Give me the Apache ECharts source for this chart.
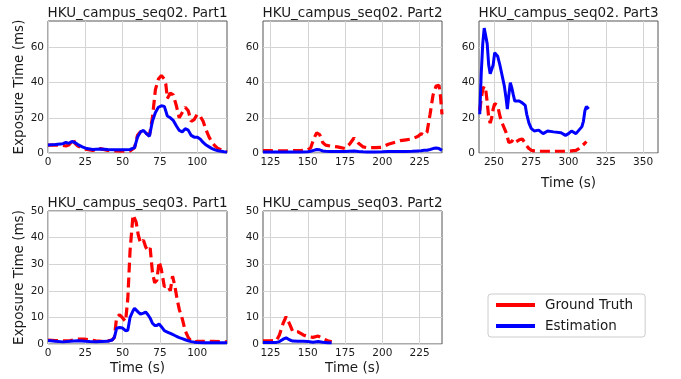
<!DOCTYPE html>
<html>
<head>
<meta charset="utf-8">
<script src="https://cdn.jsdelivr.net/npm/echarts@6/dist/echarts.min.js"></script>
<style>
html, body { margin: 0; padding: 0; background: #fff; }
#chart { width: 681px; height: 379px; }
</style>
</head>
<body>
<div id="chart"></div>
<script>
// seq02 Part1
const s02p1Time = [0, 5, 10, 12, 14, 16, 17, 18, 20, 23, 26, 30, 35, 40, 45, 50, 55, 58, 60, 62, 64, 66, 68, 70, 72, 74, 76, 78, 79, 80, 82, 84, 86, 88, 90, 92, 94, 96, 98, 100, 102, 104, 106, 108, 110, 112, 114, 116, 118, 120]
const s02p1Truth = [4.5, 4.5, 4.3, 4, 4.5, 6.5, 8, 5.5, 4, 2.8, 2, 1.5, 2.5, 1.5, 1.2, 1, 1.2, 3, 10, 12, 12.5, 11, 10, 20, 36, 42, 44, 42, 39, 31, 34, 33, 27, 20, 23, 26, 24, 18, 19, 22, 21, 18, 13, 9, 6, 4, 2.5, 1.8, 1, 0.6]
const s02p1Est = [4.5, 4.8, 5.3, 6, 5.5, 6.5, 7, 6, 4.8, 3.5, 2.5, 2, 2.3, 2, 1.8, 1.8, 2, 3, 9, 12, 12.8, 11, 9.5, 18, 23, 26, 26.8, 26.5, 25.5, 21, 20, 18.5, 15.5, 12.8, 12, 13.8, 13, 10, 9, 9, 8, 6, 4.5, 3.5, 2.5, 1.8, 1.3, 1, 0.7, 0.5]

// seq02 Part2
const s02p2Time = [120, 125, 130, 135, 140, 145, 150, 152, 154, 156, 158, 160, 162, 165, 170, 175, 178, 181, 184, 187, 190, 195, 200, 204, 208, 212, 216, 220, 224, 226, 228, 230, 232, 234, 236, 238, 239, 240]
const s02p2Truth = [1.3, 1.3, 1.2, 1.2, 1.3, 1.3, 1.8, 3, 8, 11.5, 10.5, 6, 4.5, 4, 3.5, 2.5, 5, 8.5, 5.5, 3.5, 3, 3, 3.3, 5, 6, 7, 7.5, 8, 9.5, 11, 10, 12, 22, 33, 38, 38.5, 32, 22]
const s02p2Est = [0.6, 0.6, 0.5, 0.5, 0.5, 0.5, 0.7, 1, 1.5, 2, 1.8, 1.2, 1, 0.9, 0.8, 0.8, 1, 1.2, 0.9, 0.7, 0.6, 0.6, 0.7, 0.8, 0.8, 0.9, 0.9, 1, 1.2, 1.3, 1.5, 1.6, 2, 2.5, 2.8, 2.5, 2, 1.5]

// seq02 Part3
const s02p3Time = [240.5, 241.5, 242.5, 243.5, 244.5, 245.5, 246.5, 247.5, 248.5, 249.5, 250.5, 251.5, 252.5, 254, 255.5, 257, 258, 259, 260, 261, 262, 263, 264, 265, 267, 269, 270, 271, 272, 273.5, 275, 277, 280, 283, 286, 290, 295, 298, 300, 302, 305, 307, 309, 310, 311, 312, 313.5]
const s02p3Truth = [24, 31, 36, 38, 36, 29, 20, 17, 20, 25, 28, 29, 27, 21, 17, 14, 12, 9, 6, 5, 6.5, 8, 7.5, 6.5, 7.5, 8, 7, 5.5, 4, 2.5, 1.5, 1.2, 1, 1, 1, 1, 1, 1, 1, 1.2, 1.5, 2.5, 4, 5, 5.5, 6.5, null]
const s02p3Est = [22, 45, 62, 71, 71, 62, 50, 45, 44, 50, 57, 58, 55, 50, 44, 38, 32, 25, 33, 40, 37, 33, 29.5, 29, 29.5, 28.5, 29, 27, 22, 17, 14, 12.5, 13, 11, 12.5, 12, 11.5, 10, 11, 12.5, 11, 13, 15, 18, 24, 26.5, 25]

// seq03 Part1
const s03p1Time = [0, 5, 10, 15, 20, 25, 28, 32, 36, 40, 43, 44.5, 46, 48, 50, 52, 53.5, 55, 57, 58, 59, 60.5, 62, 64, 65.5, 67, 68.5, 70, 71.5, 73, 74.5, 76, 78, 80, 82, 83.5, 85, 86.5, 88, 90, 92, 94, 96, 98, 100, 105, 110, 115, 120]
const s03p1Truth = [1.5, 1.3, 1.2, 1.3, 1.8, 1.8, 1.5, 1.2, 1, 1.2, 1.5, 2.5, 10, 11, 9.8, 8.5, 17, 35, 48.5, 49, 46, 41, 38, 39, 36.5, 35, 36, 27, 23, 24, 31, 28, 21.5, 22, 20, 25.5, 22, 17, 13, 9.5, 5, 2.5, 1, 0.8, 1, 1, 1, 0.9, 0.8]
const s03p1Est = [1.3, 1, 0.8, 1, 1.2, 1, 0.9, 0.8, 0.9, 1, 1.5, 2.5, 5.9, 6.2, 6, 5, 5.2, 10, 12.5, 13.4, 13.2, 12, 11.2, 11.6, 12, 11, 9.7, 7.8, 7, 7, 7.5, 6.5, 5, 4.5, 4, 3.6, 3.2, 2.8, 2.4, 2, 1.6, 1.2, 0.9, 0.7, 0.6, 0.5, 0.5, 0.5, 0.5]

// seq03 Part2
const s03p2Time = [120, 125, 129, 131, 133.5, 135.5, 138, 140, 143.5, 147, 150, 153.5, 157, 160, 163.5, 166]
const s03p2Truth = [1.2, 1.2, 1.3, 3.4, 7.8, 10.3, 7.3, 4.6, 4.6, 3.4, 2.8, 2.5, 3, 2, 1.2, 0.8]
const s03p2Est = [0.6, 0.6, 0.6, 0.9, 1.8, 2.3, 1.5, 1.1, 1, 1, 0.9, 0.7, 0.9, 0.7, 0.5, 0.5]

// tick labels
const xTicksA = [0, 25, 50, 75, 100]
const xTicksB = [125, 150, 175, 200, 225]
const xTicksC = [250, 275, 300, 325, 350]
const yTicksTop = [0, 20, 40, 60]
const yTicksBottom = [0, 10, 20, 30, 40, 50]

const titles = ['HKU_campus_seq02. Part1', 'HKU_campus_seq02. Part2', 'HKU_campus_seq02. Part3', 'HKU_campus_seq03. Part1', 'HKU_campus_seq03. Part2']

const panels = [
  { time: s02p1Time, truth: s02p1Truth, est: s02p1Est, xMin: 0, xMax: 120, xTicks: xTicksA, yMax: 75, yTicks: yTicksTop, yName: true, xName: false },
  { time: s02p2Time, truth: s02p2Truth, est: s02p2Est, xMin: 120, xMax: 240, xTicks: xTicksB, yMax: 75, yTicks: yTicksTop, yName: false, xName: false },
  { time: s02p3Time, truth: s02p3Truth, est: s02p3Est, xMin: 240, xMax: 360, xTicks: xTicksC, yMax: 75, yTicks: yTicksTop, yName: false, xName: true },
  { time: s03p1Time, truth: s03p1Truth, est: s03p1Est, xMin: 0, xMax: 120, xTicks: xTicksA, yMax: 50, yTicks: yTicksBottom, yName: true, xName: true },
  { time: s03p2Time, truth: s03p2Truth, est: s03p2Est, xMin: 120, xMax: 240, xTicks: xTicksB, yMax: 50, yTicks: yTicksBottom, yName: false, xName: true },
]

// grid boxes (px)
const boxes = [
  { left: 48, top: 21, width: 179, height: 132 },
  { left: 263, top: 21, width: 179, height: 132 },
  { left: 479, top: 21, width: 179, height: 132 },
  { left: 48, top: 211, width: 179, height: 133 },
  { left: 263, top: 211, width: 179, height: 133 },
]

const FONT = 'DejaVu Sans'
const TXT = '#1a1a1a'

const pairs = (t, v) => t.map((x, i) => [x, v[i]])

const chart = echarts.init(document.getElementById('chart'), null, { renderer: 'canvas' })

const grid = boxes.map(b => ({
  left: b.left, top: b.top, width: b.width, height: b.height,
  show: true, borderColor: '#555', borderWidth: 1, backgroundColor: '#fff',
}))

const xAxis = panels.map((p, i) => ({
  type: 'value', gridIndex: i, min: p.xMin, max: p.xMax,
  name: p.xName ? 'Time (s)' : '',
  nameLocation: 'middle', nameGap: i === 2 ? 23 : 17,
  nameTextStyle: { fontFamily: FONT, fontSize: 13.5, color: TXT },
  axisLine: { show: false },
  axisTick: { show: false, customValues: p.xTicks },
  axisLabel: { customValues: p.xTicks, fontFamily: FONT, fontSize: 10.5, color: TXT, margin: 4 },
  splitLine: { show: true, lineStyle: { color: '#d4d4d4', width: 1 } },
}))

const yAxis = panels.map((p, i) => ({
  type: 'value', gridIndex: i, min: 0, max: p.yMax,
  name: p.yName ? 'Exposure Time (ms)' : '',
  nameLocation: 'middle', nameGap: 22, nameRotate: 90,
  nameTextStyle: { fontFamily: FONT, fontSize: 13.5, color: TXT },
  axisLine: { show: false },
  axisTick: { show: false, customValues: p.yTicks },
  axisLabel: { customValues: p.yTicks, fontFamily: FONT, fontSize: 10.5, color: TXT, margin: 4 },
  splitLine: { show: true, lineStyle: { color: '#d4d4d4', width: 1 } },
}))

const series = []
panels.forEach((p, i) => {
  series.push({
    name: 'Ground Truth', type: 'line', xAxisIndex: i, yAxisIndex: i,
    data: pairs(p.time, p.truth), showSymbol: false, symbol: 'none', z: 2,
    color: '#ff0000',
    lineStyle: { color: '#ff0000', width: 3.2, type: [10, 5] },
  })
  series.push({
    name: 'Estimation', type: 'line', xAxisIndex: i, yAxisIndex: i,
    data: pairs(p.time, p.est), showSymbol: false, symbol: 'none', z: 3,
    color: '#0000ff',
    lineStyle: { color: '#0000ff', width: 3 },
  })
})

const graphic = boxes.map((b, i) => ({
  type: 'text',
  x: b.left + b.width / 2,
  y: b.top - 8,
  style: {
    text: titles[i], fontFamily: FONT, fontSize: 13.5, fill: TXT,
    textAlign: 'center', textVerticalAlign: 'middle',
  },
}))

chart.setOption({
  animation: false,
  backgroundColor: '#fff',
  grid, xAxis, yAxis, series, graphic,
  legend: {
    data: [
      { name: 'Ground Truth', itemStyle: { color: '#ff0000' } },
      { name: 'Estimation', itemStyle: { color: '#0000ff' } },
    ],
    orient: 'vertical', left: 488, top: 294,
    icon: 'rect', itemWidth: 39, itemHeight: 4, itemGap: 7,
    borderColor: '#ccc', borderWidth: 1, borderRadius: 3,
    padding: [4, 12, 4, 8],
    textStyle: { fontFamily: FONT, fontSize: 13.5, color: TXT, padding: [0, 0, 0, 5] },
  },
})
</script>
</body>
</html>
